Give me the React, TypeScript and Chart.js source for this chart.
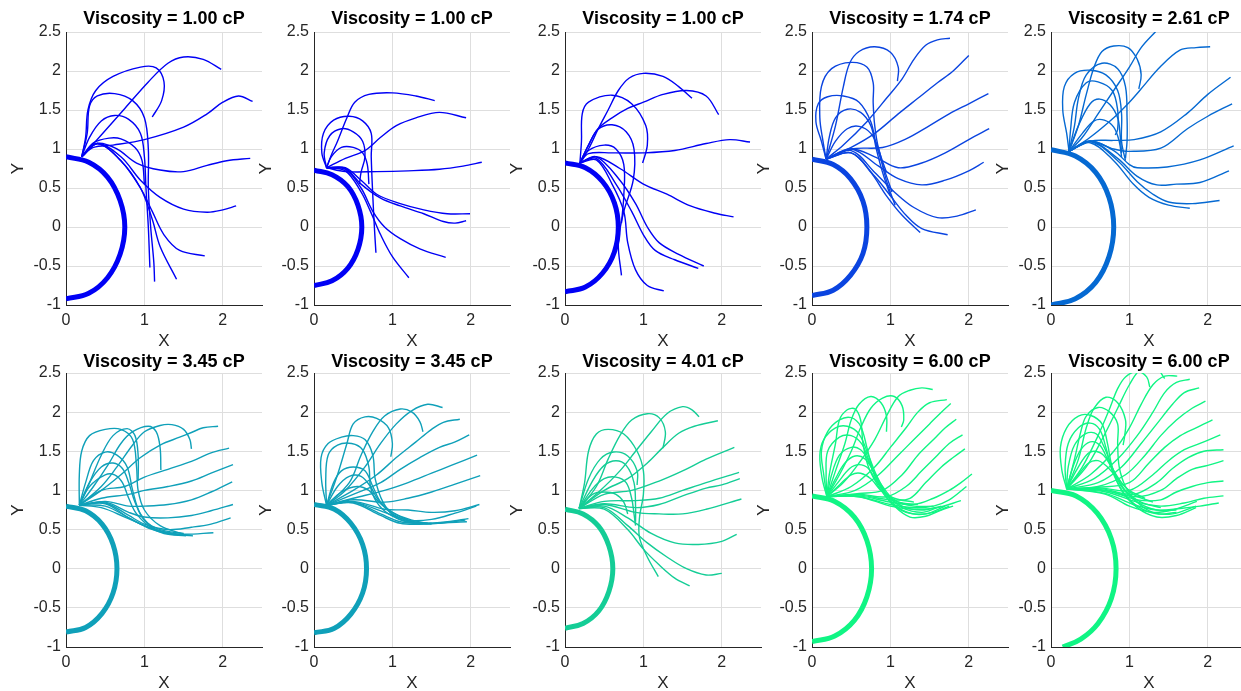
import React, { useEffect, useRef } from 'react';
import { Chart, registerables } from 'chart.js';

Chart.register(...registerables);

type Pt = [number, number];

const viscosityLabels = ['1.00', '1.00', '1.00', '1.74', '2.61', '3.45', '3.45', '4.01', '6.00', '6.00'];
const panelColors = ['#0000f5', '#0000f5', '#0000f5', '#0a44e0', '#0569d2', '#0fa0b9', '#0fa0b9', '#14cd96', '#10f584', '#10f584'];

const xTickStep = 1;
const yTickStep = 0.5;
const xRange: Pt = [0, 2.5];
const yRange: Pt = [-1, 2.5];

// ---------- Panel 1 (1.00 cP) ----------
const ellipse1: Pt[] = [[0, 0.9], [0.29, 0.83], [0.53, 0.64], [0.69, 0.34], [0.75, 0], [0.69, -0.35], [0.53, -0.65], [0.29, -0.85], [0, -0.92]];
const curves1: Pt[][] = [
  [[0.2, 0.9], [0.45, 1.18], [0.75, 1.52], [1.05, 1.86], [1.3, 2.1], [1.5, 2.18], [1.75, 2.15], [1.98, 2.02]],
  [[0.2, 0.9], [0.25, 1.15], [0.28, 1.5], [0.38, 1.75], [0.6, 1.93], [0.95, 2.05], [1.15, 2.04], [1.25, 1.86], [1.22, 1.62], [1.1, 1.41]],
  [[0.2, 0.9], [0.27, 1.2], [0.3, 1.55], [0.4, 1.68], [0.62, 1.71], [0.85, 1.62], [1.0, 1.4], [1.05, 1.0], [1.05, 0.5], [1.08, 0.0], [1.12, -0.45], [1.13, -0.7]],
  [[0.2, 0.9], [0.3, 1.15], [0.45, 1.36], [0.62, 1.43], [0.8, 1.38], [0.95, 1.2], [1.0, 0.9], [1.02, 0.5], [1.05, 0.0], [1.07, -0.52]],
  [[0.2, 0.9], [0.35, 1.08], [0.55, 1.14], [0.7, 1.13], [0.88, 1.02], [0.97, 0.85], [1.0, 0.55]],
  [[0.2, 0.9], [0.35, 1.02], [0.6, 1.05], [1.0, 1.12], [1.5, 1.28], [1.8, 1.45], [2.0, 1.6], [2.2, 1.68], [2.38, 1.61]],
  [[0.2, 0.9], [0.4, 1.07], [0.65, 1.0], [0.9, 0.82], [1.2, 0.73], [1.5, 0.71], [1.8, 0.79], [2.05, 0.85], [2.35, 0.88]],
  [[0.2, 0.9], [0.4, 1.07], [0.7, 0.9], [0.95, 0.6], [1.2, 0.38], [1.5, 0.23], [1.8, 0.19], [2.0, 0.22], [2.17, 0.27]],
  [[0.2, 0.9], [0.4, 1.07], [0.7, 0.85], [0.95, 0.5], [1.1, 0.2], [1.25, -0.1], [1.45, -0.3], [1.77, -0.37]],
  [[0.2, 0.9], [0.4, 1.07], [0.7, 0.85], [0.95, 0.5], [1.1, 0.1], [1.2, -0.25], [1.41, -0.67]],
];

// ---------- Panel 2 (1.00 cP) ----------
const ellipse2: Pt[] = [[0, 0.73], [0.23, 0.67], [0.43, 0.52], [0.56, 0.28], [0.61, 0], [0.56, -0.29], [0.43, -0.53], [0.23, -0.69], [0, -0.75]];
const curves2: Pt[][] = [
  [[0.16, 0.76], [0.22, 0.92], [0.3, 1.1], [0.42, 1.4], [0.52, 1.6], [0.7, 1.7], [1.0, 1.72], [1.3, 1.68], [1.54, 1.62]],
  [[0.16, 0.76], [0.4, 0.88], [0.65, 0.98], [0.85, 1.15], [1.05, 1.3], [1.3, 1.4], [1.6, 1.47], [1.94, 1.4]],
  [[0.16, 0.76], [0.4, 0.71], [0.8, 0.71], [1.2, 0.72], [1.6, 0.74], [1.9, 0.78], [2.14, 0.83]],
  [[0.16, 0.76], [0.4, 0.76], [0.6, 0.6], [0.8, 0.42], [1.1, 0.3], [1.4, 0.22], [1.7, 0.17], [1.99, 0.17]],
  [[0.16, 0.76], [0.4, 0.75], [0.6, 0.55], [0.85, 0.37], [1.1, 0.27], [1.4, 0.17], [1.65, 0.07], [1.8, 0.05], [1.94, 0.08]],
  [[0.16, 0.76], [0.4, 0.74], [0.6, 0.5], [0.75, 0.2], [0.9, 0.0], [1.1, -0.15], [1.35, -0.28], [1.68, -0.39]],
  [[0.16, 0.76], [0.4, 0.72], [0.6, 0.45], [0.72, 0.2], [0.85, -0.1], [1.0, -0.38], [1.21, -0.65]],
  [[0.16, 0.76], [0.1, 0.95], [0.12, 1.2], [0.25, 1.37], [0.45, 1.42], [0.62, 1.36], [0.73, 1.2], [0.73, 0.9], [0.75, 0.4], [0.77, 0.0], [0.79, -0.33]],
  [[0.16, 0.76], [0.13, 0.95], [0.2, 1.17], [0.35, 1.26], [0.5, 1.22], [0.62, 1.1], [0.65, 0.9], [0.6, 0.7], [0.58, 0.55]],
  [[0.16, 0.76], [0.22, 0.9], [0.35, 1.02], [0.5, 1.02], [0.62, 0.95], [0.68, 0.8], [0.7, 0.55]],
];

// ---------- Panel 3 (1.00 cP) ----------
const ellipse3: Pt[] = [[0, 0.82], [0.26, 0.76], [0.48, 0.58], [0.63, 0.31], [0.68, 0], [0.63, -0.32], [0.48, -0.59], [0.26, -0.77], [0, -0.83]];
const curves3: Pt[][] = [
  [[0.19, 0.82], [0.3, 1.0], [0.42, 1.25], [0.55, 1.5], [0.68, 1.75], [0.82, 1.91], [1.0, 1.97], [1.25, 1.93], [1.45, 1.8], [1.62, 1.65]],
  [[0.19, 0.82], [0.3, 1.05], [0.42, 1.26], [0.6, 1.4], [0.8, 1.52], [1.0, 1.6], [1.25, 1.7], [1.55, 1.75], [1.8, 1.68], [1.96, 1.44]],
  [[0.19, 0.82], [0.3, 0.94], [0.6, 0.95], [1.0, 0.95], [1.4, 0.98], [1.8, 1.07], [2.1, 1.12], [2.36, 1.09]],
  [[0.19, 0.82], [0.4, 0.9], [0.7, 0.75], [1.0, 0.55], [1.3, 0.42], [1.6, 0.27], [1.9, 0.18], [2.15, 0.13]],
  [[0.19, 0.82], [0.4, 0.9], [0.7, 0.6], [0.9, 0.3], [1.05, 0.0], [1.2, -0.2], [1.45, -0.35], [1.77, -0.5]],
  [[0.19, 0.82], [0.4, 0.88], [0.65, 0.55], [0.85, 0.2], [1.0, -0.1], [1.15, -0.3], [1.4, -0.42], [1.7, -0.53]],
  [[0.19, 0.82], [0.4, 0.86], [0.6, 0.55], [0.75, 0.2], [0.8, -0.2], [0.9, -0.55], [1.05, -0.75], [1.26, -0.82]],
  [[0.19, 0.82], [0.3, 1.05], [0.42, 1.25], [0.6, 1.31], [0.78, 1.22], [0.88, 1.0], [0.87, 0.6], [0.75, 0.2], [0.68, -0.2], [0.72, -0.62]],
  [[0.19, 0.82], [0.21, 1.1], [0.22, 1.45], [0.3, 1.6], [0.6, 1.69], [0.85, 1.58], [1.03, 1.3], [1.05, 1.05], [0.99, 0.82]],
  [[0.19, 0.82], [0.3, 0.98], [0.5, 1.05], [0.65, 1.0], [0.75, 0.8], [0.75, 0.4], [0.72, 0.05]],
];

// ---------- Panel 4 (1.74 cP) ----------
const ellipse4: Pt[] = [[0, 0.87], [0.27, 0.8], [0.49, 0.62], [0.65, 0.33], [0.7, 0], [0.65, -0.34], [0.49, -0.62], [0.27, -0.81], [0, -0.88]];
const curves4: Pt[][] = [
  [[0.18, 0.87], [0.4, 1.05], [0.7, 1.35], [0.95, 1.65], [1.15, 1.9], [1.3, 2.15], [1.45, 2.33], [1.6, 2.4], [1.76, 2.42]],
  [[0.18, 0.87], [0.5, 1.02], [0.8, 1.2], [1.1, 1.45], [1.35, 1.65], [1.6, 1.85], [1.8, 2.0], [2.0, 2.2]],
  [[0.18, 0.87], [0.5, 1.0], [0.9, 1.02], [1.2, 1.13], [1.5, 1.3], [1.75, 1.45], [2.0, 1.58], [2.25, 1.71]],
  [[0.18, 0.87], [0.5, 1.0], [0.8, 0.9], [1.1, 0.76], [1.4, 0.82], [1.7, 0.95], [2.0, 1.12], [2.26, 1.26]],
  [[0.18, 0.87], [0.5, 1.0], [0.85, 0.78], [1.1, 0.62], [1.4, 0.54], [1.7, 0.6], [2.0, 0.72], [2.19, 0.83]],
  [[0.18, 0.87], [0.5, 0.98], [0.8, 0.7], [1.05, 0.45], [1.3, 0.25], [1.6, 0.12], [1.85, 0.14], [2.09, 0.22]],
  [[0.18, 0.87], [0.5, 0.95], [0.8, 0.65], [1.0, 0.4], [1.2, 0.15], [1.4, -0.02], [1.73, -0.1]],
  [[0.18, 0.87], [0.5, 0.95], [0.75, 0.7], [0.95, 0.4], [1.15, 0.15], [1.38, -0.07]],
  [[0.18, 0.87], [0.3, 1.1], [0.45, 1.26], [0.6, 1.29], [0.75, 1.2], [0.85, 1.0], [0.92, 0.7], [0.98, 0.5], [1.06, 0.28]],
  [[0.18, 0.87], [0.22, 1.15], [0.3, 1.4], [0.45, 1.51], [0.62, 1.47], [0.75, 1.3], [0.82, 1.0], [0.9, 0.7], [1.0, 0.4]],
  [[0.18, 0.87], [0.12, 1.1], [0.05, 1.35], [0.08, 1.58], [0.2, 1.67], [0.4, 1.68], [0.6, 1.6], [0.75, 1.35], [0.82, 1.05], [0.9, 0.8], [1.02, 0.45]],
  [[0.18, 0.87], [0.14, 1.1], [0.1, 1.4], [0.12, 1.8], [0.25, 2.03], [0.5, 2.11], [0.7, 2.05], [0.78, 1.85], [0.78, 1.6], [0.8, 1.3], [0.85, 1.0], [0.95, 0.7]],
  [[0.18, 0.87], [0.3, 1.3], [0.4, 1.8], [0.48, 2.1], [0.6, 2.25], [0.8, 2.31], [1.0, 2.24], [1.1, 2.05], [1.09, 1.87]],
];

// ---------- Panel 5 (2.61 cP) ----------
const ellipse5: Pt[] = [[0, 0.99], [0.31, 0.91], [0.57, 0.7], [0.74, 0.38], [0.8, 0], [0.74, -0.38], [0.57, -0.71], [0.31, -0.92], [0, -1.0]];
const curves5: Pt[][] = [
  [[0.23, 0.97], [0.4, 1.15], [0.6, 1.45], [0.8, 1.75], [1.0, 2.05], [1.15, 2.3], [1.33, 2.5], [1.45, 2.62]],
  [[0.23, 0.97], [0.5, 1.15], [0.8, 1.4], [1.0, 1.6], [1.14, 1.76], [1.4, 2.06], [1.65, 2.27], [1.85, 2.3], [2.03, 2.31]],
  [[0.23, 0.97], [0.5, 1.1], [0.8, 1.11], [1.06, 1.12], [1.4, 1.22], [1.74, 1.46], [2.0, 1.7], [2.29, 1.92]],
  [[0.23, 0.97], [0.5, 1.1], [0.8, 1.0], [1.0, 0.97], [1.4, 1.01], [1.74, 1.26], [2.0, 1.42], [2.31, 1.58]],
  [[0.23, 0.97], [0.5, 1.1], [0.8, 0.98], [1.0, 0.8], [1.1, 0.76], [1.48, 0.77], [1.9, 0.86], [2.33, 1.04]],
  [[0.23, 0.97], [0.5, 1.1], [0.85, 0.88], [1.1, 0.65], [1.35, 0.54], [1.6, 0.55], [1.9, 0.57], [2.27, 0.72]],
  [[0.23, 0.97], [0.5, 1.1], [0.85, 0.85], [1.1, 0.58], [1.3, 0.42], [1.5, 0.32], [1.8, 0.3], [2.15, 0.34]],
  [[0.23, 0.97], [0.5, 1.08], [0.8, 0.85], [1.05, 0.55], [1.25, 0.38], [1.5, 0.28], [1.77, 0.24]],
  [[0.23, 0.97], [0.35, 1.3], [0.45, 1.7], [0.55, 2.05], [0.65, 2.25], [0.8, 2.32], [0.98, 2.3], [1.1, 2.15], [1.15, 1.95], [1.12, 1.77]],
  [[0.23, 0.97], [0.3, 1.3], [0.35, 1.65], [0.45, 1.95], [0.65, 2.1], [0.85, 2.03], [0.95, 1.8], [0.97, 1.4], [0.97, 1.1], [0.95, 0.88]],
  [[0.23, 0.97], [0.2, 1.2], [0.15, 1.5], [0.17, 1.8], [0.3, 1.97], [0.5, 2.01], [0.7, 1.95], [0.85, 1.75], [0.9, 1.45], [0.9, 1.1], [0.95, 0.85]],
  [[0.23, 0.97], [0.25, 1.25], [0.3, 1.6], [0.45, 1.85], [0.6, 1.86], [0.78, 1.75], [0.85, 1.5], [0.85, 1.25], [0.82, 1.18]],
  [[0.23, 0.97], [0.35, 1.3], [0.5, 1.58], [0.62, 1.64], [0.75, 1.57], [0.85, 1.4], [0.88, 1.2], [0.9, 0.95]],
  [[0.23, 0.97], [0.4, 1.2], [0.55, 1.36], [0.68, 1.37], [0.8, 1.28], [0.87, 1.1], [0.9, 0.9]],
];

// ---------- Panel 6 (3.45 cP) ----------
const ellipse6: Pt[] = [[0, 0.8], [0.25, 0.74], [0.46, 0.57], [0.6, 0.31], [0.65, 0], [0.6, -0.31], [0.46, -0.57], [0.25, -0.75], [0, -0.81]];
const curves6: Pt[][] = [
  [[0.17, 0.81], [0.45, 1.0], [0.7, 1.2], [0.95, 1.42], [1.2, 1.58], [1.45, 1.68], [1.6, 1.74], [1.75, 1.8], [1.94, 1.82]],
  [[0.17, 0.81], [0.45, 1.05], [0.65, 1.3], [0.85, 1.58], [1.0, 1.75], [1.2, 1.83], [1.35, 1.84], [1.5, 1.78], [1.58, 1.65], [1.6, 1.53]],
  [[0.17, 0.81], [0.35, 1.05], [0.55, 1.35], [0.7, 1.6], [0.85, 1.75], [1.05, 1.82], [1.15, 1.75], [1.2, 1.55], [1.21, 1.26]],
  [[0.17, 0.81], [0.3, 1.1], [0.45, 1.45], [0.6, 1.7], [0.78, 1.79], [0.88, 1.7], [0.92, 1.45], [0.92, 1.13]],
  [[0.17, 0.81], [0.17, 1.2], [0.2, 1.5], [0.3, 1.7], [0.5, 1.78], [0.7, 1.78], [0.85, 1.65], [0.9, 1.3], [0.92, 1.0], [1.0, 0.75], [1.2, 0.55], [1.5, 0.44]],
  [[0.17, 0.81], [0.45, 1.0], [0.75, 1.05], [1.0, 1.17], [1.3, 1.27], [1.6, 1.37], [1.85, 1.48], [2.08, 1.54]],
  [[0.17, 0.81], [0.45, 0.9], [0.8, 0.95], [1.0, 1.0], [1.3, 1.05], [1.6, 1.12], [1.85, 1.22], [2.13, 1.33]],
  [[0.17, 0.81], [0.5, 0.86], [0.8, 0.8], [1.0, 0.8], [1.3, 0.82], [1.6, 0.88], [1.85, 0.98], [2.12, 1.11]],
  [[0.17, 0.81], [0.5, 0.85], [0.8, 0.72], [1.0, 0.66], [1.3, 0.65], [1.6, 0.68], [1.85, 0.74], [2.13, 0.82]],
  [[0.17, 0.81], [0.5, 0.84], [0.8, 0.68], [1.0, 0.57], [1.3, 0.5], [1.6, 0.53], [1.85, 0.57], [2.1, 0.65]],
  [[0.17, 0.81], [0.5, 0.83], [0.8, 0.65], [1.0, 0.55], [1.25, 0.47], [1.5, 0.44], [1.88, 0.46]],
  [[0.17, 0.81], [0.5, 0.8], [0.8, 0.65], [1.05, 0.52], [1.3, 0.45], [1.62, 0.42]],
  [[0.17, 0.81], [0.45, 0.78], [0.75, 0.66], [1.0, 0.55], [1.25, 0.45], [1.53, 0.42]],
  [[0.17, 0.81], [0.25, 1.1], [0.35, 1.38], [0.5, 1.49], [0.65, 1.45], [0.78, 1.3], [0.85, 1.0], [0.95, 0.7], [1.15, 0.5], [1.45, 0.43]],
  [[0.17, 0.81], [0.3, 1.1], [0.45, 1.3], [0.6, 1.35], [0.72, 1.28], [0.8, 1.1], [0.88, 0.85], [1.0, 0.62], [1.2, 0.5], [1.5, 0.45]],
  [[0.17, 0.81], [0.3, 1.05], [0.5, 1.2], [0.62, 1.2], [0.72, 1.1], [0.8, 0.9], [0.9, 0.7], [1.1, 0.52], [1.4, 0.44]],
];

// ---------- Panel 7 (3.45 cP) ----------
const ellipse7: Pt[] = [[0, 0.82], [0.26, 0.76], [0.47, 0.58], [0.62, 0.31], [0.67, 0], [0.62, -0.31], [0.47, -0.58], [0.26, -0.76], [0, -0.82]];
const curves7: Pt[][] = [
  [[0.16, 0.81], [0.4, 1.0], [0.65, 1.3], [0.85, 1.6], [1.05, 1.85], [1.25, 2.02], [1.45, 2.1], [1.64, 2.06]],
  [[0.16, 0.81], [0.45, 1.1], [0.6, 1.45], [0.75, 1.75], [0.9, 1.95], [1.1, 2.04], [1.25, 2.0], [1.35, 1.88], [1.39, 1.75]],
  [[0.16, 0.81], [0.3, 1.2], [0.42, 1.6], [0.5, 1.85], [0.65, 1.94], [0.8, 1.92], [0.95, 1.8], [1.0, 1.6], [0.98, 1.43]],
  [[0.16, 0.81], [0.5, 1.0], [0.8, 1.2], [1.05, 1.42], [1.3, 1.62], [1.5, 1.78], [1.65, 1.87], [1.86, 1.91]],
  [[0.16, 0.81], [0.5, 0.95], [0.85, 1.1], [1.1, 1.27], [1.35, 1.42], [1.6, 1.55], [1.8, 1.62], [1.98, 1.71]],
  [[0.16, 0.81], [0.5, 0.9], [0.9, 1.0], [1.2, 1.1], [1.5, 1.22], [1.75, 1.32], [2.08, 1.45]],
  [[0.16, 0.81], [0.5, 0.88], [0.9, 0.85], [1.2, 0.9], [1.5, 0.98], [1.8, 1.08], [2.12, 1.19]],
  [[0.16, 0.81], [0.5, 0.86], [0.9, 0.76], [1.2, 0.75], [1.5, 0.72], [1.8, 0.74], [2.11, 0.82]],
  [[0.16, 0.81], [0.5, 0.85], [0.9, 0.72], [1.2, 0.62], [1.5, 0.63], [1.8, 0.71], [2.07, 0.8]],
  [[0.16, 0.81], [0.5, 0.85], [0.85, 0.7], [1.1, 0.6], [1.4, 0.58], [1.7, 0.6], [1.97, 0.64]],
  [[0.16, 0.81], [0.5, 0.84], [0.85, 0.68], [1.1, 0.58], [1.4, 0.57], [1.7, 0.59], [1.95, 0.6]],
  [[0.16, 0.81], [0.1, 1.1], [0.09, 1.42], [0.18, 1.6], [0.35, 1.68], [0.5, 1.7], [0.65, 1.65], [0.75, 1.45], [0.78, 1.15], [0.88, 0.85], [1.05, 0.65], [1.3, 0.58], [1.6, 0.58], [1.93, 0.62]],
  [[0.16, 0.81], [0.15, 1.15], [0.18, 1.45], [0.3, 1.58], [0.48, 1.6], [0.62, 1.52], [0.7, 1.3], [0.72, 1.05], [0.8, 0.85], [0.95, 0.7], [1.2, 0.6], [1.5, 0.57]],
  [[0.16, 0.81], [0.25, 1.1], [0.35, 1.25], [0.5, 1.3], [0.65, 1.25], [0.75, 1.05], [0.85, 0.85], [1.0, 0.7], [1.25, 0.6], [1.5, 0.58]],
  [[0.16, 0.81], [0.3, 1.05], [0.45, 1.18], [0.6, 1.18], [0.72, 1.05], [0.82, 0.88], [1.0, 0.72], [1.25, 0.62], [1.45, 0.58]],
  [[0.16, 0.81], [0.35, 0.98], [0.55, 1.05], [0.7, 1.0], [0.8, 0.88], [0.95, 0.75], [1.2, 0.62], [1.4, 0.58]],
];

// ---------- Panel 8 (4.01 cP) ----------
const ellipse8: Pt[] = [[0, 0.76], [0.23, 0.7], [0.43, 0.54], [0.56, 0.29], [0.61, 0], [0.56, -0.29], [0.43, -0.54], [0.23, -0.7], [0, -0.76]];
const curves8: Pt[][] = [
  [[0.18, 0.77], [0.45, 1.0], [0.7, 1.25], [0.9, 1.5], [1.1, 1.75], [1.3, 1.98], [1.5, 2.07], [1.62, 2.03], [1.71, 1.94]],
  [[0.18, 0.77], [0.4, 1.05], [0.55, 1.4], [0.7, 1.7], [0.85, 1.9], [1.05, 1.98], [1.2, 1.93], [1.28, 1.75], [1.25, 1.54]],
  [[0.18, 0.77], [0.5, 1.0], [0.8, 1.15], [1.05, 1.35], [1.25, 1.55], [1.45, 1.73], [1.65, 1.82], [1.95, 1.89]],
  [[0.18, 0.77], [0.5, 0.95], [0.85, 1.0], [1.2, 1.12], [1.5, 1.25], [1.8, 1.4], [2.16, 1.55]],
  [[0.18, 0.77], [0.5, 0.86], [0.9, 0.87], [1.2, 0.9], [1.5, 1.0], [1.8, 1.1], [2.22, 1.23]],
  [[0.18, 0.77], [0.5, 0.83], [0.9, 0.78], [1.2, 0.82], [1.5, 0.93], [1.8, 1.03], [2.0, 1.07], [2.23, 1.15]],
  [[0.18, 0.77], [0.5, 0.82], [0.9, 0.72], [1.2, 0.7], [1.5, 0.7], [1.8, 0.76], [2.25, 0.89]],
  [[0.18, 0.77], [0.5, 0.8], [0.8, 0.65], [1.1, 0.45], [1.4, 0.33], [1.7, 0.31], [2.0, 0.35], [2.19, 0.44]],
  [[0.18, 0.77], [0.5, 0.78], [0.8, 0.55], [1.05, 0.33], [1.3, 0.15], [1.55, 0.0], [1.8, -0.08], [2.0, -0.06]],
  [[0.18, 0.77], [0.5, 0.76], [0.8, 0.5], [1.0, 0.25], [1.2, 0.05], [1.4, -0.12], [1.59, -0.22]],
  [[0.18, 0.77], [0.25, 1.1], [0.3, 1.5], [0.4, 1.72], [0.55, 1.78], [0.75, 1.72], [0.92, 1.5], [1.0, 1.25], [1.0, 0.95], [0.95, 0.65], [0.95, 0.4], [1.05, 0.15], [1.19, -0.1]],
  [[0.18, 0.77], [0.3, 1.15], [0.45, 1.4], [0.62, 1.49], [0.8, 1.44], [0.92, 1.25], [0.92, 1.07]],
  [[0.18, 0.77], [0.35, 1.12], [0.5, 1.32], [0.65, 1.38], [0.78, 1.32], [0.88, 1.1], [0.9, 0.8], [0.9, 0.6]],
  [[0.18, 0.77], [0.35, 1.02], [0.5, 1.15], [0.65, 1.17], [0.78, 1.1], [0.85, 0.9], [0.88, 0.7], [0.9, 0.55]],
  [[0.18, 0.77], [0.35, 0.95], [0.5, 0.98], [0.65, 0.95], [0.75, 0.85], [0.8, 0.7]],
];

// ---------- Panel 9 (6.00 cP) ----------
const ellipse9: Pt[] = [[0, 0.93], [0.29, 0.86], [0.54, 0.66], [0.7, 0.36], [0.76, 0], [0.7, -0.36], [0.54, -0.66], [0.29, -0.86], [0, -0.93]];
const curves9: Pt[][] = [
  [[0.19, 0.92], [0.4, 1.1], [0.6, 1.35], [0.8, 1.65], [0.95, 1.95], [1.1, 2.2], [1.25, 2.28], [1.4, 2.31], [1.54, 2.29]],
  [[0.19, 0.92], [0.35, 1.2], [0.5, 1.5], [0.62, 1.8], [0.75, 2.05], [0.9, 2.18], [1.05, 2.2], [1.15, 2.08], [1.17, 1.9], [1.14, 1.81]],
  [[0.19, 0.92], [0.3, 1.25], [0.42, 1.6], [0.5, 1.9], [0.6, 2.1], [0.75, 2.2], [0.88, 2.12], [0.95, 1.95], [0.95, 1.75]],
  [[0.19, 0.92], [0.5, 1.05], [0.8, 1.3], [1.0, 1.55], [1.2, 1.8], [1.35, 2.0], [1.5, 2.12], [1.72, 2.16]],
  [[0.19, 0.92], [0.55, 1.0], [0.85, 1.2], [1.1, 1.45], [1.3, 1.65], [1.5, 1.85], [1.65, 2.0], [1.77, 2.11]],
  [[0.19, 0.92], [0.6, 0.96], [0.9, 1.0], [1.15, 1.2], [1.35, 1.45], [1.55, 1.65], [1.7, 1.8], [1.84, 1.91]],
  [[0.19, 0.92], [0.6, 0.95], [0.95, 0.92], [1.2, 1.05], [1.4, 1.25], [1.6, 1.45], [1.75, 1.6], [1.92, 1.71]],
  [[0.19, 0.92], [0.6, 0.94], [1.0, 0.88], [1.25, 0.9], [1.45, 1.1], [1.65, 1.3], [1.8, 1.42], [1.95, 1.53]],
  [[0.19, 0.92], [0.6, 0.93], [1.0, 0.85], [1.3, 0.82], [1.55, 0.9], [1.75, 1.0], [1.9, 1.1], [2.04, 1.21]],
  [[0.19, 0.92], [0.6, 0.92], [1.0, 0.82], [1.3, 0.78], [1.55, 0.8], [1.75, 0.88], [1.97, 1.05]],
  [[0.19, 0.92], [0.6, 0.92], [1.0, 0.8], [1.3, 0.76], [1.6, 0.78], [1.9, 0.87]],
  [[0.19, 0.92], [0.22, 1.2], [0.3, 1.6], [0.35, 1.9], [0.45, 2.03], [0.55, 2.04], [0.62, 1.9], [0.65, 1.6], [0.72, 1.3], [0.85, 1.05], [1.0, 0.85], [1.2, 0.72], [1.45, 0.7], [1.7, 0.8]],
  [[0.19, 0.92], [0.15, 1.2], [0.12, 1.5], [0.2, 1.75], [0.35, 1.9], [0.5, 1.93], [0.62, 1.82], [0.7, 1.55], [0.78, 1.25], [0.9, 1.0], [1.05, 0.8], [1.25, 0.66], [1.45, 0.67], [1.65, 0.75], [1.8, 0.8]],
  [[0.19, 0.92], [0.13, 1.15], [0.1, 1.45], [0.15, 1.65], [0.3, 1.8], [0.45, 1.82], [0.6, 1.72], [0.72, 1.45], [0.82, 1.2], [0.95, 0.95], [1.1, 0.78], [1.3, 0.7], [1.55, 0.72], [1.75, 0.8]],
  [[0.19, 0.92], [0.18, 1.2], [0.2, 1.5], [0.35, 1.68], [0.5, 1.7], [0.63, 1.6], [0.72, 1.4], [0.82, 1.15], [0.95, 0.95], [1.15, 0.78], [1.4, 0.72], [1.6, 0.78]],
  [[0.19, 0.92], [0.25, 1.2], [0.35, 1.45], [0.5, 1.55], [0.62, 1.52], [0.72, 1.38], [0.82, 1.15], [0.95, 0.95], [1.15, 0.8], [1.4, 0.75], [1.65, 0.8]],
  [[0.19, 0.92], [0.3, 1.15], [0.42, 1.35], [0.55, 1.44], [0.68, 1.4], [0.78, 1.25], [0.9, 1.05], [1.05, 0.88], [1.3, 0.8], [1.55, 0.8]],
  [[0.19, 0.92], [0.33, 1.1], [0.48, 1.28], [0.6, 1.33], [0.72, 1.28], [0.82, 1.12], [0.95, 0.95], [1.1, 0.85], [1.35, 0.82]],
  [[0.19, 0.92], [0.35, 1.07], [0.5, 1.2], [0.62, 1.22], [0.75, 1.15], [0.88, 1.0], [1.05, 0.9], [1.3, 0.85]],
];

// ---------- Panel 10 (6.00 cP) ----------
const ellipse10: Pt[] = [[0, 1.0], [0.32, 0.93], [0.59, 0.71], [0.77, 0.38], [0.83, 0], [0.77, -0.38], [0.6, -0.7], [0.38, -0.9], [0.15, -1.0]];
const curves10: Pt[][] = [
  [[0.2, 1.02], [0.5, 1.2], [0.8, 1.5], [1.0, 1.8], [1.15, 2.1], [1.3, 2.35], [1.45, 2.46], [1.61, 2.46]],
  [[0.2, 1.02], [0.55, 1.15], [0.85, 1.4], [1.1, 1.7], [1.3, 2.0], [1.45, 2.25], [1.6, 2.38], [1.77, 2.42]],
  [[0.2, 1.02], [0.6, 1.1], [0.9, 1.3], [1.15, 1.6], [1.35, 1.85], [1.55, 2.1], [1.7, 2.25], [1.89, 2.31]],
  [[0.2, 1.02], [0.6, 1.05], [0.95, 1.2], [1.2, 1.45], [1.4, 1.7], [1.6, 1.9], [1.8, 2.05], [1.97, 2.14]],
  [[0.2, 1.02], [0.6, 1.04], [1.0, 1.1], [1.25, 1.35], [1.45, 1.55], [1.65, 1.7], [1.85, 1.8], [2.06, 1.9]],
  [[0.2, 1.02], [0.65, 1.03], [1.0, 1.0], [1.3, 1.2], [1.5, 1.38], [1.7, 1.52], [1.9, 1.6], [2.16, 1.71]],
  [[0.2, 1.02], [0.65, 1.02], [1.05, 0.95], [1.35, 1.1], [1.55, 1.28], [1.75, 1.42], [1.95, 1.5], [2.2, 1.52]],
  [[0.2, 1.02], [0.65, 1.0], [1.1, 0.92], [1.4, 1.0], [1.6, 1.15], [1.8, 1.27], [2.0, 1.32], [2.2, 1.38]],
  [[0.2, 1.02], [0.7, 1.0], [1.1, 0.88], [1.4, 0.88], [1.6, 0.98], [1.8, 1.05], [2.0, 1.1], [2.2, 1.12]],
  [[0.2, 1.02], [0.7, 0.98], [1.1, 0.85], [1.4, 0.8], [1.7, 0.84], [1.95, 0.9], [2.2, 0.93]],
  [[0.2, 1.02], [0.7, 0.96], [1.05, 0.82], [1.35, 0.75], [1.65, 0.77], [1.9, 0.8], [2.14, 0.84]],
  [[0.2, 1.02], [0.7, 0.95], [1.0, 0.8], [1.3, 0.72], [1.55, 0.75], [1.86, 0.86]],
  [[0.2, 1.02], [0.4, 1.3], [0.6, 1.7], [0.75, 2.05], [0.85, 2.3], [0.95, 2.45], [1.1, 2.52], [1.22, 2.45], [1.26, 2.32]],
  [[0.2, 1.02], [0.45, 1.3], [0.65, 1.65], [0.85, 2.05], [1.0, 2.35], [1.15, 2.55], [1.35, 2.55], [1.45, 2.43]],
  [[0.2, 1.02], [0.35, 1.4], [0.45, 1.8], [0.55, 2.05], [0.7, 2.19], [0.85, 2.12], [0.95, 1.9], [0.94, 1.7], [0.92, 1.58]],
  [[0.2, 1.02], [0.3, 1.4], [0.38, 1.75], [0.45, 1.95], [0.6, 2.06], [0.75, 2.0], [0.85, 1.85], [0.85, 1.6], [0.87, 1.3], [0.95, 1.05], [1.1, 0.85], [1.3, 0.72], [1.55, 0.7], [1.85, 0.8]],
  [[0.2, 1.02], [0.14, 1.25], [0.12, 1.55], [0.2, 1.8], [0.35, 1.95], [0.5, 1.96], [0.65, 1.85], [0.72, 1.6], [0.78, 1.3], [0.9, 1.0], [1.1, 0.78], [1.35, 0.66], [1.6, 0.68], [1.85, 0.78]],
  [[0.2, 1.02], [0.18, 1.3], [0.22, 1.6], [0.35, 1.8], [0.5, 1.86], [0.62, 1.78], [0.7, 1.55], [0.78, 1.25], [0.92, 0.98], [1.1, 0.8], [1.35, 0.7], [1.6, 0.72]],
  [[0.2, 1.02], [0.22, 1.3], [0.3, 1.58], [0.45, 1.73], [0.58, 1.72], [0.68, 1.55], [0.78, 1.3], [0.9, 1.05], [1.1, 0.85], [1.35, 0.75], [1.6, 0.75]],
  [[0.2, 1.02], [0.28, 1.3], [0.38, 1.52], [0.5, 1.62], [0.62, 1.58], [0.72, 1.4], [0.82, 1.2], [0.95, 1.0], [1.15, 0.85], [1.4, 0.78]],
  [[0.2, 1.02], [0.32, 1.25], [0.45, 1.45], [0.55, 1.5], [0.67, 1.45], [0.77, 1.3], [0.9, 1.1], [1.05, 0.95], [1.3, 0.85]],
  [[0.2, 1.02], [0.35, 1.2], [0.48, 1.35], [0.6, 1.38], [0.72, 1.3], [0.85, 1.15], [1.0, 1.0], [1.2, 0.9]],
];

const ellipses: Pt[][] = [ellipse1, ellipse2, ellipse3, ellipse4, ellipse5, ellipse6, ellipse7, ellipse8, ellipse9, ellipse10];
const curveSets: Pt[][][] = [curves1, curves2, curves3, curves4, curves5, curves6, curves7, curves8, curves9, curves10];

const COL_LEFT = [66, 314, 565, 812, 1051];
const ROW_TOP = [32, 373];
const PLOT_W = 196;
const PLOT_H = [273, 274];
const TITLE_BASE = [8, 6];
const PAD_TOP = 40;
const Y_W = 60;
const X_H = 47;
const PAD_R = 4;

const FONT = "'Liberation Sans', Arial, Helvetica, sans-serif";
const AXIS_COLOR = '#262626';
const GRID_COLOR = '#dedede';

function Panel({ idx }: { idx: number }) {
  const ref = useRef<HTMLCanvasElement | null>(null);
  const col = idx % 5;
  const row = Math.floor(idx / 5);
  const W = Y_W + PLOT_W + PAD_R;
  const H = PAD_TOP + PLOT_H[row] + X_H;

  useEffect(() => {
    if (!ref.current) return;
    const color = panelColors[idx];
    const toXY = (pts: Pt[]) => pts.map(([x, y]) => ({ x, y }));
    const datasets: any[] = [
      {
        data: toXY(ellipses[idx]),
        borderColor: color,
        borderWidth: 5,
        showLine: true,
        pointRadius: 0,
        tension: 0.4,
        borderCapStyle: 'butt',
        borderJoinStyle: 'round',
      },
      ...curveSets[idx].map((c) => ({
        data: toXY(c),
        borderColor: color,
        borderWidth: 1.4,
        showLine: true,
        pointRadius: 0,
        tension: 0.35,
        borderJoinStyle: 'round',
      })),
    ];
    const title = `Viscosity = ${viscosityLabels[idx]} cP`;
    const titlePlugin = {
      id: 'panelTitle',
      afterDraw(chart: any) {
        const { ctx, chartArea } = chart;
        ctx.save();
        ctx.font = `bold 18px ${FONT}`;
        ctx.fillStyle = '#000';
        ctx.textAlign = 'center';
        ctx.textBaseline = 'alphabetic';
        ctx.fillText(title, (chartArea.left + chartArea.right) / 2, chartArea.top - TITLE_BASE[row]);
        ctx.restore();
      },
    };
    const fmt = (v: any) => String(Number(v));
    const chart = new Chart(ref.current, {
      type: 'scatter',
      data: { datasets },
      options: {
        animation: false,
        responsive: false,
        maintainAspectRatio: false,
        devicePixelRatio: 1,
        events: [],
        layout: { padding: { top: PAD_TOP, right: PAD_R, left: 0, bottom: 0 } },
        plugins: { legend: { display: false }, tooltip: { enabled: false }, title: { display: false } },
        scales: {
          x: {
            type: 'linear',
            min: xRange[0],
            max: xRange[1],
            afterFit: (s: any) => {
              s.height = X_H;
            },
            ticks: { stepSize: xTickStep, includeBounds: false, color: AXIS_COLOR, font: { family: FONT, size: 16 }, padding: 6, maxRotation: 0, callback: fmt },
            grid: { color: GRID_COLOR, drawTicks: false },
            border: { display: true, color: AXIS_COLOR, width: 1 },
            title: { display: true, text: 'X', color: AXIS_COLOR, font: { family: FONT, size: 17 }, padding: { top: 0, bottom: 0 } },
          },
          y: {
            type: 'linear',
            min: yRange[0],
            max: yRange[1],
            afterFit: (s: any) => {
              s.width = Y_W;
            },
            ticks: { stepSize: yTickStep, color: AXIS_COLOR, font: { family: FONT, size: 16 }, padding: 5, callback: fmt },
            grid: { color: GRID_COLOR, drawTicks: false },
            border: { display: true, color: AXIS_COLOR, width: 1 },
            title: { display: true, text: 'Y', color: AXIS_COLOR, font: { family: FONT, size: 17 }, padding: { top: 2, bottom: 0 } },
          },
        },
      } as any,
      plugins: [titlePlugin],
    });
    return () => chart.destroy();
  }, [idx, row]);

  return (
    <canvas
      ref={ref}
      width={W}
      height={H}
      style={{ position: 'absolute', left: COL_LEFT[col] - Y_W, top: ROW_TOP[row] - PAD_TOP, width: W, height: H }}
    />
  );
}

export default function App() {
  return (
    <div style={{ position: 'fixed', left: 0, top: 0, width: 1241, height: 691, overflow: 'hidden', background: '#fff' }}>
      {viscosityLabels.map((_, i) => (
        <Panel key={i} idx={i} />
      ))}
    </div>
  );
}
